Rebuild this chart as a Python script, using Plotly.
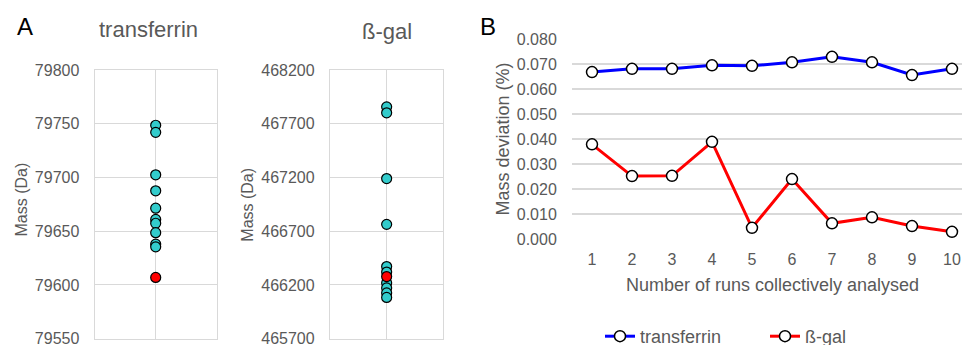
import plotly.graph_objects as go

# ---------------- data ----------------
transferrin_runs = [79748.6, 79742.0, 79702.5, 79687.6, 79671.4, 79661.0, 79657.4, 79648.6, 79638.0, 79635.5]
transferrin_ref = [79607.0]
bgal_runs = [467857, 467802, 467190, 466764, 466371, 466320, 466219, 466172, 466126, 466084]
bgal_ref = [466278]

runs = [1, 2, 3, 4, 5, 6, 7, 8, 9, 10]
dev_transferrin = [0.0669, 0.0682, 0.0682, 0.0696, 0.0694, 0.0708, 0.0730, 0.0708, 0.0657, 0.0682]
dev_bgal = [0.0380, 0.0253, 0.0254, 0.0390, 0.0046, 0.0241, 0.0064, 0.0088, 0.0053, 0.0030]

transferrin_ticks = [79550, 79600, 79650, 79700, 79750, 79800]
bgal_ticks = [465700, 466200, 466700, 467200, 467700, 468200]
dev_ticks = [0.0, 0.01, 0.02, 0.03, 0.04, 0.05, 0.06, 0.07, 0.08]

# ---------------- style ----------------
W, H = 962, 345
FONT = "Liberation Sans, Arial, sans-serif"
GRAY = "#595959"
GRID = "#d9d9d9"
CYAN = "#33CCCC"

def px(x):
    return x / W

def py(y):
    return 1 - y / H

fig = go.Figure()

# Panel A: transferrin
fig.add_trace(go.Scatter(x=[1] * len(transferrin_runs), y=transferrin_runs, mode="markers",
                         marker=dict(size=10, color=CYAN, line=dict(color="black", width=1.2)),
                         xaxis="x", yaxis="y", showlegend=False))
fig.add_trace(go.Scatter(x=[1] * len(transferrin_ref), y=transferrin_ref, mode="markers",
                         marker=dict(size=10, color="#FF0000", line=dict(color="black", width=1.2)),
                         xaxis="x", yaxis="y", showlegend=False))
# Panel A: b-gal
fig.add_trace(go.Scatter(x=[1] * len(bgal_runs), y=bgal_runs, mode="markers",
                         marker=dict(size=10, color=CYAN, line=dict(color="black", width=1.2)),
                         xaxis="x2", yaxis="y2", showlegend=False))
fig.add_trace(go.Scatter(x=[1] * len(bgal_ref), y=bgal_ref, mode="markers",
                         marker=dict(size=10, color="#FF0000", line=dict(color="black", width=1.2)),
                         xaxis="x2", yaxis="y2", showlegend=False))
# Panel B
fig.add_trace(go.Scatter(x=runs, y=dev_transferrin, mode="lines+markers", name="transferrin",
                         line=dict(color="#0000FF", width=3),
                         marker=dict(size=11, color="white", line=dict(color="black", width=1.5)),
                         xaxis="x3", yaxis="y3"))
fig.add_trace(go.Scatter(x=runs, y=dev_bgal, mode="lines+markers", name="ß-gal",
                         line=dict(color="#FF0000", width=3),
                         marker=dict(size=11, color="white", line=dict(color="black", width=1.5)),
                         xaxis="x3", yaxis="y3"))

tickfont = dict(family=FONT, size=16, color=GRAY)
boxaxis = dict(showline=True, mirror=True, linecolor=GRID, linewidth=1.3,
               showgrid=True, gridcolor=GRID, gridwidth=1.3, zeroline=False)

ydomA = [py(338.7), py(70)]

fig.update_layout(
    width=W, height=H,
    margin=dict(l=0, r=0, t=0, b=0, autoexpand=False),
    paper_bgcolor="white", plot_bgcolor="white",
    font=dict(family=FONT, color=GRAY),
    xaxis=dict(domain=[px(94.7), px(216.7)], range=[0, 2], tickvals=[1], showticklabels=False,
               ticks="", **boxaxis),
    yaxis=dict(domain=ydomA, range=[transferrin_ticks[0], transferrin_ticks[-1]], tickvals=transferrin_ticks,
               tickformat="d", ticklabeloverflow="allow",
               ticks="outside", ticklen=11, tickcolor="rgba(0,0,0,0)", tickfont=tickfont,
               **boxaxis),
    xaxis2=dict(domain=[px(330), px(443.3)], range=[0, 2], tickvals=[1], showticklabels=False,
                ticks="", anchor="y2", **boxaxis),
    yaxis2=dict(domain=ydomA, range=[bgal_ticks[0], bgal_ticks[-1]], tickvals=bgal_ticks,
                tickformat="d", ticklabeloverflow="allow",
                ticks="outside", ticklen=11, tickcolor="rgba(0,0,0,0)", tickfont=tickfont,
                anchor="x2", **boxaxis),
    xaxis3=dict(domain=[px(572), 1.0], range=[0.5, 10.25], tickvals=runs, showgrid=False,
                showline=False, zeroline=False, ticks="outside", ticklen=5, ticklabeloverflow="allow",
                tickcolor="rgba(0,0,0,0)", tickfont=tickfont, anchor="y3"),
    yaxis3=dict(domain=[py(239.3), py(39.3)], range=[0, 0.08], tickvals=dev_ticks, tickformat=".3f",
                showgrid=True, gridcolor=GRID, gridwidth=1.5, showline=False, zeroline=False,
                ticks="outside", ticklen=11, tickcolor="rgba(0,0,0,0)", tickfont=tickfont,
                anchor="x3"),
    legend=dict(orientation="h", x=px(600), xanchor="left", y=py(336.5), yanchor="middle",
                font=dict(family=FONT, size=18, color=GRAY), bgcolor="rgba(0,0,0,0)",
                entrywidth=120, entrywidthmode="pixels"),
)

annotations = [
    dict(text="A", x=px(24.5), y=py(27), font=dict(size=24, color="black")),
    dict(text="B", x=px(487.5), y=py(26), font=dict(size=24, color="black")),
    dict(text="transferrin", x=px(148.5), y=py(30), font=dict(size=22, color=GRAY)),
    dict(text="ß-gal", x=px(386.7), y=py(31), font=dict(size=22, color=GRAY)),
    dict(text="Mass (Da)", x=px(20.5), y=py(200), textangle=-90, font=dict(size=16, color=GRAY)),
    dict(text="Mass (Da)", x=px(246.7), y=py(205), textangle=-90, font=dict(size=16, color=GRAY)),
    dict(text="Mass deviation (%)", x=px(502.5), y=py(139), textangle=-90, font=dict(size=18, color=GRAY)),
    dict(text="Number of runs collectively analysed", x=px(772), y=py(285), font=dict(size=18, color=GRAY)),
]
for a in annotations:
    a.update(xref="paper", yref="paper", showarrow=False, xanchor="center", yanchor="middle")
    a["font"]["family"] = FONT
fig.update_layout(annotations=annotations)

fig.write_html("out.html", config={"displayModeBar": False},
               post_script="document.body.style.margin='0';document.body.style.overflow='hidden';")
